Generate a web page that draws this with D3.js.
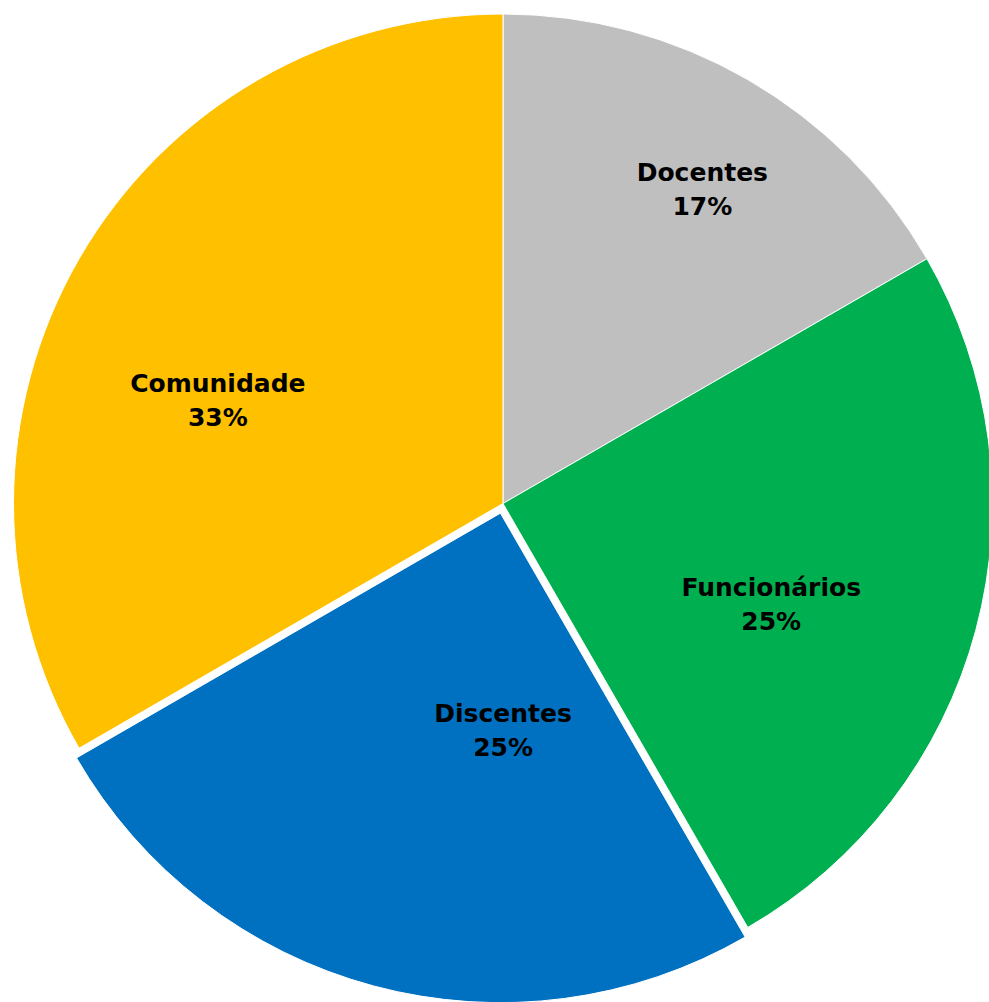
<!DOCTYPE html>
<html lang="pt">
<head>
<meta charset="UTF-8">
<title>Pie</title>
<script src="https://cdnjs.cloudflare.com/ajax/libs/d3/7.8.5/d3.min.js"></script>
<style>
  body { margin: 0; background: #fff; overflow: hidden; }
  text { font-family: "DejaVu Sans", Verdana, sans-serif; font-weight: bold; }
</style>
</head>
<body>
<div id="chart"></div>
<script>
// data
const categories = ["Docentes", "Funcionários", "Discentes", "Comunidade"];
const counts = [2, 3, 3, 4];
const percentLabels = ["17%", "25%", "25%", "33%"];
const colors = ["#BFBFBF", "#00B050", "#0070C0", "#FFC000"];

// layout (Excel "best fit" label spots: radius fraction + angle nudge in degrees)
const exploded = [0, 0, 10, 0];
const labelRadius = [0.76, 0.585, 0.444, 0.62];
const labelNudge = [2.4, 5.5, -15.7, -10];

const width = 989, height = 1002;
const cx = 503, cy = 503.5, r = 489.5;

const svg = d3.select("#chart").append("svg")
    .attr("width", width)
    .attr("height", height);

const pie = d3.pie().sort(null).value(d => d);
const arcs = pie(counts);
const arc = d3.arc().innerRadius(0).outerRadius(r);

const g = svg.append("g").attr("transform", `translate(${cx},${cy})`);

const slice = g.selectAll("g.slice")
    .data(arcs)
    .enter().append("g")
    .attr("class", "slice")
    .attr("transform", (d, i) => {
        const mid = (d.startAngle + d.endAngle) / 2;
        return `translate(${Math.sin(mid) * exploded[i]},${-Math.cos(mid) * exploded[i]})`;
    });

slice.append("path")
    .attr("d", arc)
    .attr("fill", (d, i) => colors[i])
    .attr("stroke", "#fff")
    .attr("stroke-width", 1);

const label = slice.append("text")
    .attr("text-anchor", "middle")
    .attr("font-size", 25)
    .attr("fill", "#000")
    .attr("transform", (d, i) => {
        const a = (d.startAngle + d.endAngle) / 2 + labelNudge[i] * Math.PI / 180;
        const rr = labelRadius[i] * r;
        return `translate(${Math.sin(a) * rr},${-Math.cos(a) * rr})`;
    });

label.append("tspan").attr("x", 0).attr("y", -8).text((d, i) => categories[i]);
label.append("tspan").attr("x", 0).attr("y", 26).text((d, i) => percentLabels[i]);
</script>
</body>
</html>
